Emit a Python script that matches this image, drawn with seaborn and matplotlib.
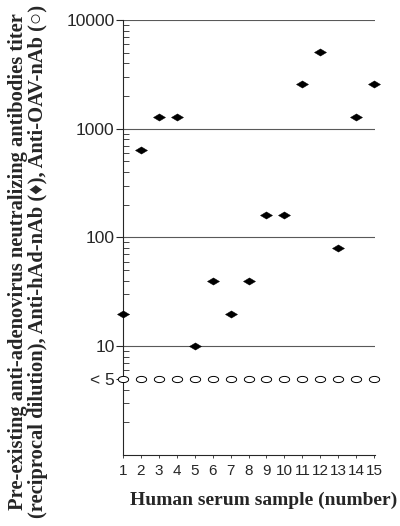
import numpy as np
import matplotlib
matplotlib.use('Agg')
import matplotlib.pyplot as plt
from matplotlib.path import Path
import seaborn as sns
import pandas as pd

# serum samples and titers
samples = list(range(1, 16))
had_titer = [20, 640, 1280, 1280, 10, 40, 20, 40, 160, 160, 2560, 5120, 80, 1280, 2560]
oav_titer = [5] * 15
ytick_vals = [5, 10, 100, 1000, 10000]
ytick_labels = ['< 5', '10', '100', '1000', '10000']

df = pd.DataFrame({'sample': samples, 'had': had_titer, 'oav': oav_titer})

sns.set_style('ticks')
plt.rcParams['font.family'] = ['Liberation Sans', 'DejaVu Sans']

# flattened diamond and flattened ellipse markers, like the scan
diamond = Path([(-1, 0), (0, 0.6), (1, 0), (0, -0.6), (-1, 0)],
               [Path.MOVETO, Path.LINETO, Path.LINETO, Path.LINETO, Path.CLOSEPOLY])
t = np.linspace(0, 2 * np.pi, 40)
ellipse = Path(np.column_stack([np.cos(t), 0.6 * np.sin(t)]))

fig = plt.figure(figsize=(4, 5.26), dpi=100)
ax = fig.add_axes([0.3075, 0.135, 0.63, 0.827])

for v in [10, 100, 1000, 10000]:
    ax.axhline(v, color='0.35', lw=0.8, zorder=1)

sns.scatterplot(data=df, x='sample', y='oav', ax=ax, marker=ellipse, s=55,
                facecolor='white', edgecolor='black', linewidth=0.7,
                zorder=3, clip_on=False)
sns.scatterplot(data=df, x='sample', y='had', ax=ax, marker=diamond, s=75,
                color='black', edgecolor='black', linewidth=0.3,
                zorder=4, clip_on=False)

ax.set_yscale('log')
ax.set_ylim(1, 10000)
ax.set_xlim(1, 15.05)
ax.set_yticks(ytick_vals)
ax.set_yticklabels(ytick_labels)
ax.yaxis.set_minor_locator(matplotlib.ticker.LogLocator(base=10, subs=np.arange(2, 10)))
ax.yaxis.set_minor_formatter(matplotlib.ticker.NullFormatter())
ax.set_xticks(samples)
ax.set_xticklabels([str(s) for s in samples])

ax.tick_params(axis='y', which='major', direction='out', length=5, width=0.8, labelsize=12.5, pad=1)
ax.tick_params(axis='y', which='minor', direction='in', length=4, width=0.6)
ax.tick_params(axis='x', direction='out', length=2.5, width=0.6, labelsize=11, pad=4)

sns.despine(ax=ax)
for sp in ['left', 'bottom']:
    ax.spines[sp].set_linewidth(0.8)

serif = ['Liberation Serif', 'DejaVu Serif']
ax.set_xlabel('Human serum sample (number)', fontsize=14, fontweight='bold', family=serif)
ax.xaxis.set_label_coords(0.56, -0.085)
ax.set_ylabel('Pre-existing anti-adenovirus neutralizing antibodies titer\n'
              '(reciprocal dilution), Anti-hAd-nAb (\u2666), Anti-OAV-nAb (\u25cb)',
              fontsize=14.8, fontweight='bold', family=serif, linespacing=1.02)
ax.yaxis.set_label_coords(-0.297, 0.444)

fig.savefig('out.png', dpi=100)
